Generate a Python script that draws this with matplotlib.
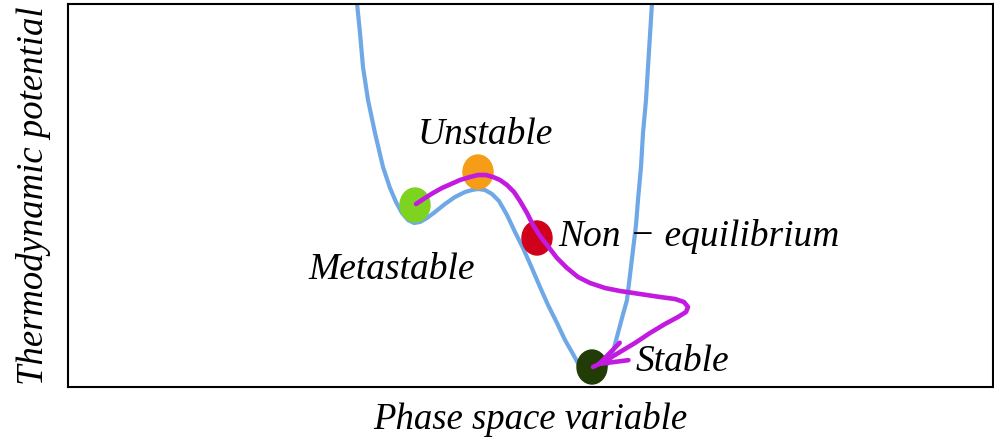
import matplotlib
matplotlib.use("Agg")
import matplotlib.pyplot as plt
from matplotlib.patches import Ellipse

# === data (arbitrary units) ===
# potential curve
phase = [289, 289, 292, 295, 300, 307, 315, 322, 328, 334,
         340, 346, 352, 359, 367, 377, 387, 397, 404, 410,
         417, 424, 431, 439, 447, 455, 463, 472, 480, 489,
         497, 505, 512, 517, 522, 527, 532, 537, 542, 546,
         550, 554, 559, 562, 565, 568, 570, 573, 575, 578,
         580, 582, 584, 585]
potential = [402, 384, 354, 320, 287, 254, 220, 199, 185, 174,
             167, 164, 165, 169, 175, 183, 190, 195, 197, 198,
             197, 193, 186, 172, 155, 139, 121, 100, 82, 64,
             47, 33, 20, 12, 8, 9, 14, 20, 27, 39,
             54, 69, 87, 112, 137, 162, 187, 220, 254, 287,
             320, 352, 384, 402]

# trajectory (magenta)
path_x = [348, 357, 365, 374, 392, 402, 410, 418, 425, 432,
          439, 446, 452, 459, 465, 472, 479, 489, 499, 510,
          522, 537, 552, 572, 592, 607, 616, 620, 618, 610,
          597, 582, 567, 552, 537, 525]
path_y = [183, 189, 194, 199, 207, 210, 212, 212, 210, 207,
          202, 195, 186, 174, 162, 151, 142, 129, 119, 110,
          104, 99, 96, 93, 90, 88, 85, 80, 75, 70,
          63, 54, 44, 35, 26, 20]

# states
state_names = ["Metastable", "Unstable", "Non − equilibrium", "Stable"]
state_x = [347, 410, 469, 524]
state_y = [182, 215, 149, 20]
state_colors = ["#7ed321", "#f59d17", "#d0021b", "#213d05"]

label_x = [324, 417, 490, 568]
label_y = [117, 252, 150, 25]
label_ha = ["center", "center", "left", "left"]

font = ["Liberation Serif", "DejaVu Serif"]

fig = plt.figure(figsize=(9.95, 4.47), dpi=100)
ax = fig.add_axes([68 / 995, 60 / 447, 925 / 995, 383 / 447])
ax.set_xlim(0, 925)
ax.set_ylim(0, 383)

ax.plot(phase, potential, color="#6fa8e6", lw=3, solid_capstyle="round",
        solid_joinstyle="round", zorder=1)

for x, y, c in zip(state_x, state_y, state_colors):
    ax.add_patch(Ellipse((x, y), 30, 34, color=c, zorder=2))

ax.plot(path_x, path_y, color="#c21ae0", lw=3.3, solid_capstyle="round",
        solid_joinstyle="round", zorder=3)
ax.annotate("", xy=(path_x[-1], path_y[-1]), xytext=(path_x[-2], path_y[-2]),
            arrowprops=dict(arrowstyle="->,head_length=2.0,head_width=0.7",
                            color="#c21ae0", lw=3.3, shrinkA=0, shrinkB=0),
            zorder=4)

for name, x, y, ha in zip(state_names, label_x, label_y, label_ha):
    ax.text(x, y, name, ha=ha, va="center", fontsize=27, style="italic",
            family=font, zorder=5)

ax.set_xlabel("Phase space variable", fontsize=26.5, style="italic",
              family=font, labelpad=11)
ax.set_ylabel("Thermodynamic potential", fontsize=26.5, style="italic",
              family=font, labelpad=12)
ax.set_xticks([])
ax.set_yticks([])
for s in ax.spines.values():
    s.set_linewidth(1.5)

fig.savefig("out.png", dpi=100)
